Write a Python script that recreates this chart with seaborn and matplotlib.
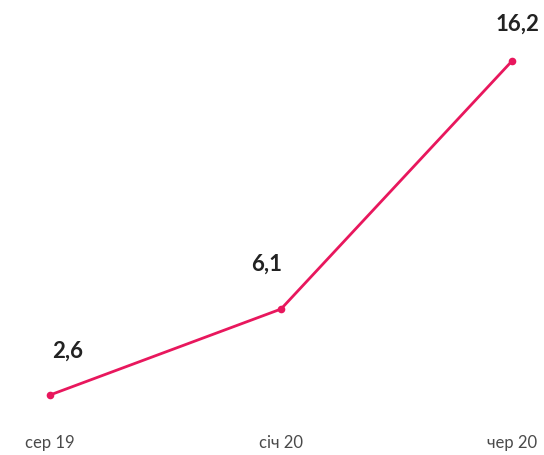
import matplotlib
matplotlib.use("Agg")
import matplotlib.pyplot as plt
import seaborn as sns
import pandas as pd

periods = ["сер 19", "січ 20", "чер 20"]
values = [2.6, 6.1, 16.2]
value_labels = ["2,6", "6,1", "16,2"]

# label offsets in points (layout only)
label_offsets = [(13, 24), (-10, 25), (4, 19)]

sns.set_theme(style="white")
plt.rcParams['font.family'] = ['Lato', 'DejaVu Sans']

df = pd.DataFrame({"x": range(len(periods)), "v": values})

W, H = 544, 455
fig = plt.figure(figsize=(W / 100, H / 100), dpi=100)
ax = fig.add_axes([50 / W, (H - 425) / H, 462 / W, 385 / H])

color = "#e8175d"
sns.lineplot(data=df, x="x", y="v", ax=ax, color=color, linewidth=2.0,
             marker="o", markersize=5.5, markeredgewidth=0, clip_on=False)

ax.set_xlim(0, 2)
ax.set_ylim(1.378, 17.055)
ax.set_xticks(range(len(periods)))
ax.set_xticklabels(periods, fontsize=12, color="#4a4a4a", fontweight="normal")
ax.set_yticks([])
ax.tick_params(axis="x", length=0, pad=7)
ax.set_xlabel("")
ax.set_ylabel("")
for s in ax.spines.values():
    s.set_visible(False)

for i, (v, lab) in enumerate(zip(values, value_labels)):
    dx, dy = label_offsets[i]
    ax.annotate(lab, (i, v), xytext=(dx, dy), textcoords="offset points",
                ha="center", va="bottom", fontsize=16, color="#222222",
                fontweight="bold", annotation_clip=False)

fig.savefig("out.png", dpi=100)
